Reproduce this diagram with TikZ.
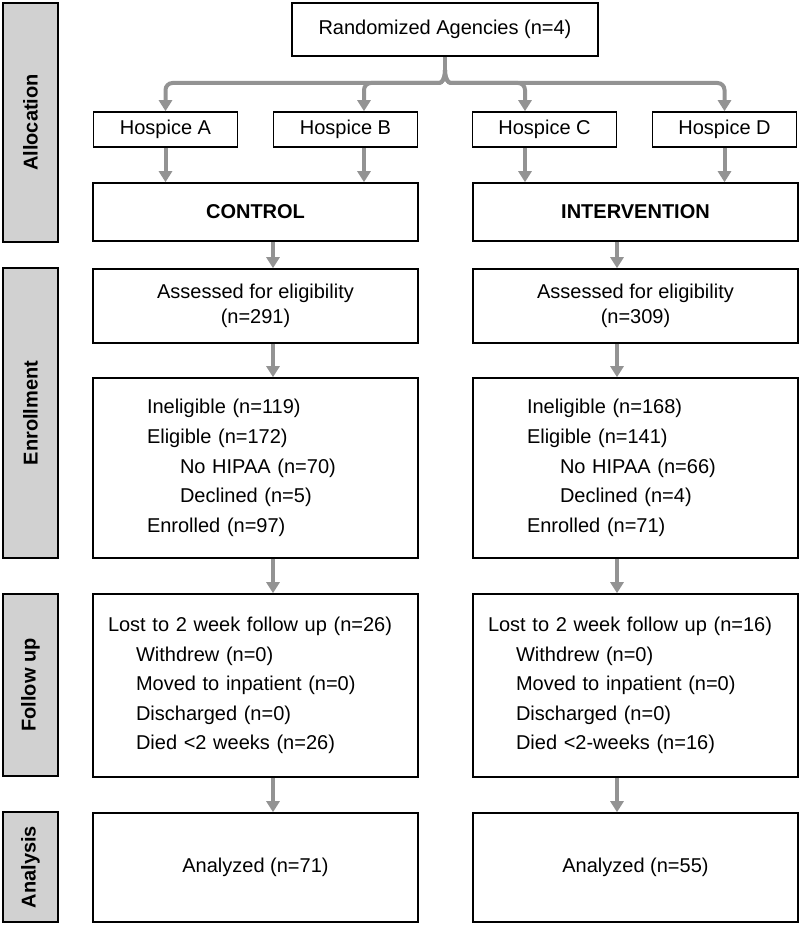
\documentclass[tikz,border=0pt]{standalone}
\usepackage{fontspec}
\setmainfont{Liberation Sans}
\usetikzlibrary{arrows.meta}
\definecolor{linkgray}{HTML}{939393}
\definecolor{sidegray}{HTML}{D1D1D1}

\begin{document}
\begin{tikzpicture}[
            x=1pt, y=-1pt,
            font=\fontsize{20}{29.6}\selectfont,
            box/.style={draw, line width=1.6pt, rectangle, inner sep=0pt, align=center},
            colbox/.style={box, minimum width=325pt},
            hospice/.style={box, minimum width=144pt, minimum height=35pt},
            side/.style={draw, line width=1.8pt, fill=sidegray, rotate=90, inner sep=0pt,
                minimum height=55pt, font=\fontsize{20}{24}\selectfont\bfseries},
            link/.style={draw=linkgray, line width=4pt, -{Triangle[width=13pt,length=11pt]}},
            stem/.style={draw=linkgray, line width=4pt},
        ]
            \useasboundingbox (0,0) rectangle (800,928);

            % phase labels
            \node[side, minimum width=239pt] (sAlloc) at (30.5,122.5) {Allocation};
            \node[side, minimum width=290pt] (sEnrol) at (30.5,413) {Enrollment};
            \node[side, minimum width=182pt] (sFollow) at (30.5,685) {Follow up};
            \node[side, minimum width=110pt] (sAnal) at (30.5,867) {Analysis};

            % allocation
            \node[box, minimum width=306pt, minimum height=53pt] (rand) at (445,29.5) {Randomized Agencies (n=4)};
            \node[hospice] (hA) at (165.5,129.5) {Hospice A};
            \node[hospice] (hB) at (345.5,129.5) {Hospice B};
            \node[hospice] (hC) at (544.5,129.5) {Hospice C};
            \node[hospice] (hD) at (724.5,129.5) {Hospice D};
            \node[colbox, minimum height=58pt] (ctrl) at (255.5,212) {\textbf{CONTROL}};
            \node[colbox, minimum height=58pt] (intv) at (635.5,212) {\textbf{INTERVENTION}};

            % enrollment
            \node[colbox, minimum height=74pt, font=\fontsize{20}{25}\selectfont] (assL) at (255.5,306)
                {Assessed for eligibility\\(n=291)};
            \node[colbox, minimum height=74pt, font=\fontsize{20}{25}\selectfont] (assR) at (635.5,306)
                {Assessed for eligibility\\(n=309)};
            \node[colbox, minimum height=180pt, align=left, text width=217pt, inner xsep=54pt] (enrL) at (255.5,468)
                {Ineligible (n=119)\\Eligible (n=172)\\\hspace*{33pt}No HIPAA (n=70)\\\hspace*{33pt}Declined (n=5)\\Enrolled (n=97)};
            \node[colbox, minimum height=180pt, align=left, text width=217pt, inner xsep=54pt] (enrR) at (635.5,468)
                {Ineligible (n=168)\\Eligible (n=141)\\\hspace*{33pt}No HIPAA (n=66)\\\hspace*{33pt}Declined (n=4)\\Enrolled (n=71)};

            % follow up
            \node[colbox, minimum height=183pt, align=left, text width=295pt, inner xsep=15pt] (lostL) at (255.5,685.5)
                {Lost to 2 week follow up (n=26)\\\hspace*{28pt}Withdrew (n=0)\\\hspace*{28pt}Moved to inpatient (n=0)\\\hspace*{28pt}Discharged (n=0)\\\hspace*{28pt}Died <2 weeks (n=26)};
            \node[colbox, minimum height=183pt, align=left, text width=295pt, inner xsep=15pt] (lostR) at (635.5,685.5)
                {Lost to 2 week follow up (n=16)\\\hspace*{28pt}Withdrew (n=0)\\\hspace*{28pt}Moved to inpatient (n=0)\\\hspace*{28pt}Discharged (n=0)\\\hspace*{28pt}Died <2-weeks (n=16)};

            % analysis
            \node[colbox, minimum height=109pt] (anaL) at (255.5,867.5) {Analyzed (n=71)};
            \node[colbox, minimum height=109pt] (anaR) at (635.5,867.5) {Analyzed (n=55)};

            % fork from randomization
            \coordinate (fork) at (445,70);
            \draw[stem] (rand.south) -- (fork);
            \draw[link, rounded corners=7pt] (fork) .. controls (445,79) and (442,83) .. (432,83) -| (hA.north);
            \draw[link, rounded corners=7pt] (fork) .. controls (445,79) and (442,83) .. (432,83) -| ([xshift=18.5pt]hB.north);
            \draw[link, rounded corners=7pt] (fork) .. controls (445,79) and (448,83) .. (458,83) -| ([xshift=-19.5pt]hC.north);
            \draw[link, rounded corners=7pt] (fork) .. controls (445,79) and (448,83) .. (458,83) -| (hD.north);

            % hospices to arms
            \draw[link] (hA.south) -- (hA.south |- ctrl.north);
            \draw[link] ([xshift=18.5pt]hB.south) -- ([xshift=18.5pt]hB.south |- ctrl.north);
            \draw[link] ([xshift=-19.5pt]hC.south) -- ([xshift=-19.5pt]hC.south |- intv.north);
            \draw[link] (hD.south) -- (hD.south |- intv.north);

            % down the arms
            \draw[link] ([xshift=17.5pt]ctrl.south) -- ([xshift=17.5pt]assL.north);
            \draw[link] ([xshift=17.5pt]assL.south) -- ([xshift=17.5pt]enrL.north);
            \draw[link] ([xshift=17.5pt]enrL.south) -- ([xshift=17.5pt]lostL.north);
            \draw[link] ([xshift=17.5pt]lostL.south) -- ([xshift=17.5pt]anaL.north);
            \draw[link] ([xshift=-18.5pt]intv.south) -- ([xshift=-18.5pt]assR.north);
            \draw[link] ([xshift=-18.5pt]assR.south) -- ([xshift=-18.5pt]enrR.north);
            \draw[link] ([xshift=-18.5pt]enrR.south) -- ([xshift=-18.5pt]lostR.north);
            \draw[link] ([xshift=-18.5pt]lostR.south) -- ([xshift=-18.5pt]anaR.north);
        \end{tikzpicture}
\end{document}
